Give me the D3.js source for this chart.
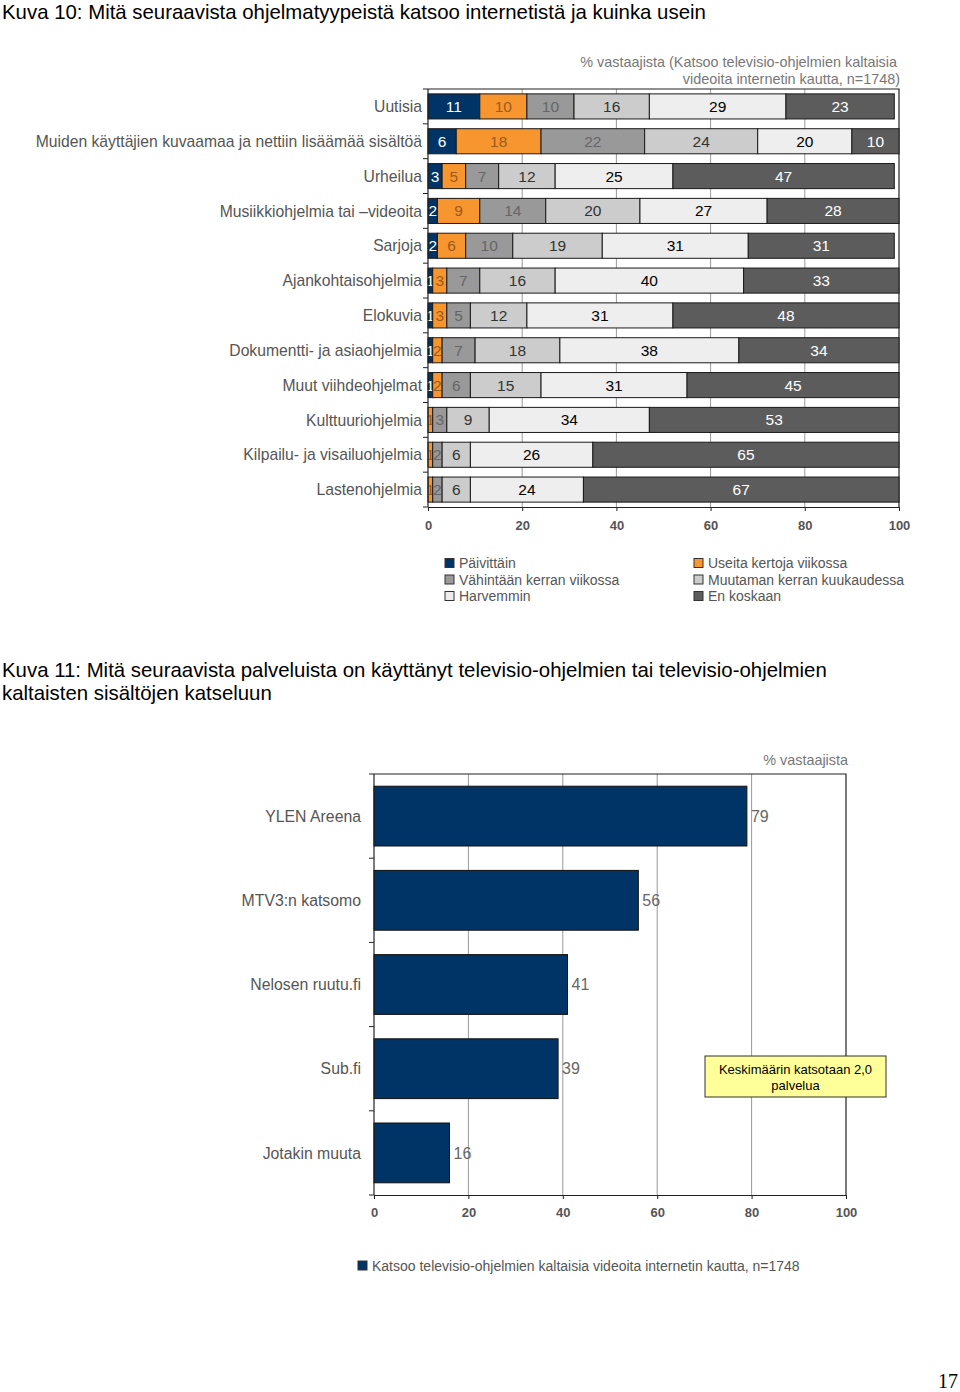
<!DOCTYPE html>
<html>
<head>
<meta charset="utf-8">
<script src="https://cdnjs.cloudflare.com/ajax/libs/d3/7.8.5/d3.min.js"></script>
<style>
  body { margin: 0; background: #fff; }
  svg text { font-family: "Liberation Sans", Arial, sans-serif; }
</style>
</head>
<body>
<div></div>
<script>
'use strict';

// Kuva 10 data
var categories = ["Uutisia", "Muiden käyttäjien kuvaamaa ja nettiin lisäämää sisältöä", "Urheilua",
  "Musiikkiohjelmia tai –videoita", "Sarjoja", "Ajankohtaisohjelmia", "Elokuvia",
  "Dokumentti- ja asiaohjelmia", "Muut viihdeohjelmat", "Kulttuuriohjelmia",
  "Kilpailu- ja visailuohjelmia", "Lastenohjelmia"];
var seriesNames = ["Päivittäin", "Useita kertoja viikossa", "Vähintään kerran viikossa",
  "Muutaman kerran kuukaudessa", "Harvemmin", "En koskaan"];
var paivittain = [11, 6, 3, 2, 2, 1, 1, 1, 1, 0, 0, 0];
var useita     = [10, 18, 5, 9, 6, 3, 3, 2, 2, 1, 1, 1];
var vahintaan  = [10, 22, 7, 14, 10, 7, 5, 7, 6, 3, 2, 2];
var muutaman   = [16, 24, 12, 20, 19, 16, 12, 18, 15, 9, 6, 6];
var harvemmin  = [29, 20, 25, 27, 31, 40, 31, 38, 31, 34, 26, 24];
var enKoskaan  = [23, 10, 47, 28, 31, 33, 48, 34, 45, 53, 65, 67];
var xTicks = [0, 20, 40, 60, 80, 100];

// Kuva 11 data
var services = ["YLEN Areena", "MTV3:n katsomo", "Nelosen ruutu.fi", "Sub.fi", "Jotakin muuta"];
var serviceValues = [79, 56, 41, 39, 16];

var svg = d3.select("div").append("svg")
    .attr("width", 960)
    .attr("height", 1392);

// ---------- Chart 1 ----------
var fills = ["#003366", "#f7962f", "#999999", "#cccccc", "#eeeeee", "#5c5c5c"];
var labelColors = ["#ffffff", "#9c5a1c", "#666666", "#333333", "#000000", "#ffffff"];

svg.append("text")
    .attr("x", 2).attr("y", 19)
    .attr("font-size", 20.4)
    .attr("fill", "#000")
    .text("Kuva 10: Mitä seuraavista ohjelmatyypeistä katsoo internetistä ja kuinka usein");

var c1 = {left: 428, right: 899, top: 89, bottom: 507};
var x1 = d3.scaleLinear().domain([0, 100]).range([c1.left, c1.right]);
var y1 = d3.scaleBand().domain(categories).range([c1.top, c1.bottom]).paddingInner(0.28).paddingOuter(0.14);

var rows = categories.map(function(c, i) {
  return {cat: c, vals: [paivittain[i], useita[i], vahintaan[i], muutaman[i], harvemmin[i], enKoskaan[i]]};
});
var stacked = d3.stack().keys(d3.range(6)).value(function(d, k) { return d.vals[k]; })(rows);

var g1 = svg.append("g");

// gridlines
g1.selectAll("line.grid")
  .data(xTicks.slice(1, 5))
  .enter().append("line")
    .attr("x1", function(d) { return x1(d); })
    .attr("x2", function(d) { return x1(d); })
    .attr("y1", c1.top).attr("y2", c1.bottom)
    .attr("stroke", "#999").attr("stroke-width", 1);

// frame (top + right)
g1.append("path")
    .attr("d", "M" + c1.left + "," + c1.top + "H" + c1.right + "V" + c1.bottom)
    .attr("fill", "none").attr("stroke", "#222").attr("stroke-width", 1.2);

var layer = g1.selectAll("g.layer")
  .data(stacked)
  .enter().append("g")
    .attr("class", "layer");

function segs(s) {
  return s.filter(function(d) { return d[1] - d[0] > 0; })
          .map(function(d) { d.key = s.key; return d; });
}

layer.selectAll("rect")
  .data(segs)
  .enter().append("rect")
    .attr("x", function(d) { return x1(d[0]); })
    .attr("y", function(d) { return y1(d.data.cat); })
    .attr("width", function(d) { return x1(d[1]) - x1(d[0]); })
    .attr("height", y1.bandwidth())
    .attr("fill", function(d) { return fills[d.key]; })
    .attr("stroke", "#1a1a1a")
    .attr("stroke-width", 1);

layer.selectAll("text")
  .data(segs)
  .enter().append("text")
    .attr("x", function(d) { return x1((d[0] + d[1]) / 2); })
    .attr("y", function(d) { return y1(d.data.cat) + y1.bandwidth() / 2; })
    .attr("dy", "0.36em")
    .attr("text-anchor", "middle")
    .attr("font-size", 15.5)
    .attr("fill", function(d) { return labelColors[d.key]; })
    .text(function(d) { return d[1] - d[0]; });

// y axis
var yAxis1 = g1.append("g")
    .attr("transform", "translate(" + c1.left + ",0)");
yAxis1.append("line")
    .attr("x1", 0).attr("x2", 0).attr("y1", c1.top).attr("y2", c1.bottom)
    .attr("stroke", "#222").attr("stroke-width", 1.2);
var step1 = y1.step();
yAxis1.selectAll("line.tick")
  .data(d3.range(categories.length + 1))
  .enter().append("line")
    .attr("x1", -5).attr("x2", 0)
    .attr("y1", function(i) { return c1.top + i * step1; })
    .attr("y2", function(i) { return c1.top + i * step1; })
    .attr("stroke", "#222");
yAxis1.selectAll("text")
  .data(categories)
  .enter().append("text")
    .attr("x", -6)
    .attr("y", function(d) { return y1(d) + y1.bandwidth() / 2; })
    .attr("dy", "0.36em")
    .attr("text-anchor", "end")
    .attr("font-size", 15.7)
    .attr("fill", "#555")
    .text(function(d) { return d; });

// x axis
var xAxis1 = g1.append("g")
    .attr("transform", "translate(0," + c1.bottom + ")")
    .call(d3.axisBottom(x1).tickValues(xTicks).tickSize(4).tickSizeOuter(0).tickPadding(10));
xAxis1.select(".domain").attr("stroke", "#222").attr("stroke-width", 1.2);
xAxis1.selectAll(".tick line").attr("stroke", "#222");
xAxis1.selectAll(".tick text")
    .attr("font-size", 13).attr("font-weight", "bold").attr("fill", "#555")
    .attr("font-family", "Liberation Sans, Arial, sans-serif");

// note
svg.append("text")
    .attr("x", 897).attr("y", 67)
    .attr("text-anchor", "end").attr("font-size", 14.4).attr("fill", "#777")
    .text("% vastaajista (Katsoo televisio-ohjelmien kaltaisia");
svg.append("text")
    .attr("x", 900).attr("y", 84)
    .attr("text-anchor", "end").attr("font-size", 14.4).attr("fill", "#777")
    .text("videoita internetin kautta, n=1748)");

// legend
var legend1 = svg.append("g");
var legItems = legend1.selectAll("g")
  .data(seriesNames)
  .enter().append("g")
    .attr("transform", function(d, i) {
      var col = i % 2, row = Math.floor(i / 2);
      return "translate(" + (445 + col * 249) + "," + (563 + row * 16.5) + ")";
    });
legItems.append("rect")
    .attr("x", 0).attr("y", -4.5)
    .attr("width", 9).attr("height", 9)
    .attr("fill", function(d, i) { return fills[i]; })
    .attr("stroke", "#333");
legItems.append("text")
    .attr("x", 14).attr("y", 0).attr("dy", "0.36em")
    .attr("font-size", 14).attr("fill", "#555")
    .text(function(d) { return d; });

// ---------- Chart 2 ----------
svg.append("text")
    .attr("x", 2).attr("y", 677)
    .attr("font-size", 20.4).attr("fill", "#000")
    .text("Kuva 11: Mitä seuraavista palveluista on käyttänyt televisio-ohjelmien tai televisio-ohjelmien");
svg.append("text")
    .attr("x", 2).attr("y", 700)
    .attr("font-size", 20.4).attr("fill", "#000")
    .text("kaltaisten sisältöjen katseluun");

var c2 = {left: 374, right: 846, top: 774, bottom: 1195};
var x2 = d3.scaleLinear().domain([0, 100]).range([c2.left, c2.right]);
var y2 = d3.scaleBand().domain(services).range([c2.top, c2.bottom]).paddingInner(0.29).paddingOuter(0.145);

var g2 = svg.append("g");

g2.selectAll("line.grid")
  .data(xTicks.slice(1, 5))
  .enter().append("line")
    .attr("x1", function(d) { return x2(d); })
    .attr("x2", function(d) { return x2(d); })
    .attr("y1", c2.top).attr("y2", c2.bottom)
    .attr("stroke", "#999").attr("stroke-width", 1);

g2.append("path")
    .attr("d", "M" + c2.left + "," + c2.top + "H" + c2.right + "V" + c2.bottom)
    .attr("fill", "none").attr("stroke", "#222").attr("stroke-width", 1.2);

g2.selectAll("rect.bar")
  .data(services)
  .enter().append("rect")
    .attr("x", x2(0))
    .attr("y", function(d) { return y2(d); })
    .attr("width", function(d, i) { return x2(serviceValues[i]) - x2(0); })
    .attr("height", y2.bandwidth())
    .attr("fill", "#003366")
    .attr("stroke", "#111");

g2.selectAll("text.val")
  .data(services)
  .enter().append("text")
    .attr("x", function(d, i) { return x2(serviceValues[i]) + 4; })
    .attr("y", function(d) { return y2(d) + y2.bandwidth() / 2; })
    .attr("dy", "0.36em")
    .attr("font-size", 16).attr("fill", "#666")
    .text(function(d, i) { return serviceValues[i]; });

var yAxis2 = g2.append("g")
    .attr("transform", "translate(" + c2.left + ",0)");
yAxis2.append("line")
    .attr("x1", 0).attr("x2", 0).attr("y1", c2.top).attr("y2", c2.bottom)
    .attr("stroke", "#222").attr("stroke-width", 1.2);
var step2 = y2.step();
yAxis2.selectAll("line.tick")
  .data(d3.range(services.length + 1))
  .enter().append("line")
    .attr("x1", -5).attr("x2", 0)
    .attr("y1", function(i) { return c2.top + i * step2; })
    .attr("y2", function(i) { return c2.top + i * step2; })
    .attr("stroke", "#222");
yAxis2.selectAll("text")
  .data(services)
  .enter().append("text")
    .attr("x", -13)
    .attr("y", function(d) { return y2(d) + y2.bandwidth() / 2; })
    .attr("dy", "0.36em")
    .attr("text-anchor", "end")
    .attr("font-size", 15.8).attr("fill", "#555")
    .text(function(d) { return d; });

var xAxis2 = g2.append("g")
    .attr("transform", "translate(0," + c2.bottom + ")")
    .call(d3.axisBottom(x2).tickValues(xTicks).tickSize(4).tickSizeOuter(0).tickPadding(9));
xAxis2.select(".domain").attr("stroke", "#222").attr("stroke-width", 1.2);
xAxis2.selectAll(".tick line").attr("stroke", "#222");
xAxis2.selectAll(".tick text")
    .attr("font-size", 13).attr("font-weight", "bold").attr("fill", "#555")
    .attr("font-family", "Liberation Sans, Arial, sans-serif");

svg.append("text")
    .attr("x", 848).attr("y", 765)
    .attr("text-anchor", "end").attr("font-size", 14.4).attr("fill", "#777")
    .text("% vastaajista");

// note box
var box = svg.append("g").attr("transform", "translate(705,1056)");
box.append("rect")
    .attr("width", 181).attr("height", 41)
    .attr("fill", "#ffff99").attr("stroke", "#333");
box.append("text")
    .attr("x", 90.5).attr("y", 18)
    .attr("text-anchor", "middle").attr("font-size", 13).attr("fill", "#000")
    .text("Keskimäärin katsotaan 2,0");
box.append("text")
    .attr("x", 90.5).attr("y", 34)
    .attr("text-anchor", "middle").attr("font-size", 13).attr("fill", "#000")
    .text("palvelua");

// legend 2
svg.append("rect")
    .attr("x", 358).attr("y", 1261)
    .attr("width", 9).attr("height", 9)
    .attr("fill", "#003366").attr("stroke", "#333");
svg.append("text")
    .attr("x", 372).attr("y", 1266).attr("dy", "0.36em")
    .attr("font-size", 14).attr("fill", "#555")
    .text("Katsoo televisio-ohjelmien kaltaisia videoita internetin kautta, n=1748");

// page number
svg.append("text")
    .attr("x", 958).attr("y", 1388)
    .attr("text-anchor", "end")
    .attr("font-size", 20)
    .attr("fill", "#000")
    .style("font-family", "'Liberation Serif', 'DejaVu Serif', serif")
    .text("17");
</script>
</body>
</html>
